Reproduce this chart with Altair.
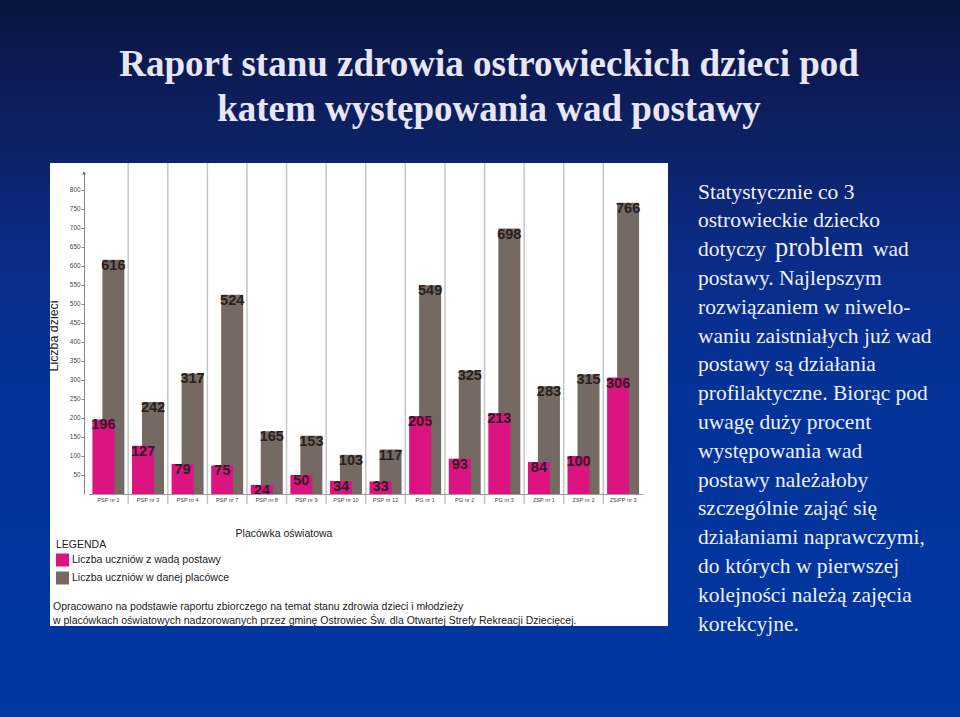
import altair as alt
import pandas as pd

# ---------------- data ----------------
schools = ["PSP nr 1", "PSP nr 3", "PSP nr 4", "PSP nr 7", "PSP nr 8", "PSP nr 9",
           "PSP nr 10", "PSP nr 12", "PG nr 1", "PG nr 2", "PG nr 3", "ZSP nr 1",
           "ZSP nr 2", "ZSiPP nr 3"]
with_defect = [196, 127, 79, 75, 24, 50, 34, 33, 205, 93, 213, 84, 100, 306]
all_pupils = [616, 242, 317, 524, 165, 153, 103, 117, 549, 325, 698, 283, 315, 766]
y_ticks = [50, 100, 150, 200, 250, 300, 350, 400, 450, 500, 550, 600, 650, 700, 750, 800]
series_names = ["Liczba uczniów z wadą postawy", "Liczba uczniów w danej placówce"]
series_colors = ["#dc1482", "#746a63"]

title_lines = ["Raport stanu zdrowia ostrowieckich dzieci pod",
               "katem występowania wad postawy"]
para_lines = ["Statystycznie co 3", "ostrowieckie dziecko", None,
              "postawy. Najlepszym", "rozwiązaniem w niwelo-",
              "waniu zaistniałych już wad", "postawy są działania",
              "profilaktyczne. Biorąc pod", "uwagę duży procent",
              "występowania wad", "postawy należałoby",
              "szczególnie zająć się", "działaniami naprawczymi,",
              "do których w pierwszej", "kolejności należą zajęcia",
              "korekcyjne."]
para_mixed = ["dotyczy", "problem", "wad"]
y_axis_title = "Liczba dzieci"
x_axis_title = "Placówka oświatowa"
legend_title = "LEGENDA"
footer_lines = ["Opracowano na podstawie raportu zbiorczego na temat stanu zdrowia dzieci i młodzieży",
                "w placówkach oświatowych nadzorowanych przez gminę Ostrowiec Św. dla Otwartej Strefy Rekreacji Dziecięcej."]

rows = []
for s, v in zip(schools, with_defect):
    rows.append({"school": s, "series": series_names[0], "value": v})
for s, v in zip(schools, all_pupils):
    rows.append({"school": s, "series": series_names[1], "value": v})
df = pd.DataFrame(rows)
sep_df = pd.DataFrame({"school": schools[1:]})
one = pd.DataFrame({"a": [0]})

SANS = "Liberation Sans"
SERIF = "Liberation Serif"

# ---------------- scales / axes ----------------
xscale = alt.Scale(domain=schools, range=[88.6, 642.9], paddingInner=0, paddingOuter=0)
yscale = alt.Scale(domain=[0, 844], range=[494, 173], nice=False, zero=True)
xaxis = alt.Axis(title=None, orient="bottom", offset=-223, ticks=False, labelFontSize=5.6,
                 labelFont=SANS, labelColor="#444444", domainColor="#9a9a9a",
                 labelPadding=3, labelAngle=0, grid=False, labelOverlap=False, zindex=2)
yaxis = alt.Axis(title=None, orient="left", offset=-84, values=y_ticks, tickSize=3,
                 tickColor="#8a8a8a", labelFontSize=6.4, labelFont=SANS,
                 labelColor="#444444", domainColor="#8a8a8a", labelPadding=1, grid=False,
                 zindex=2)
color = alt.Color("series:N",
                  scale=alt.Scale(domain=series_names, range=series_colors),
                  legend=alt.Legend(title=legend_title, orient="none", legendX=56, legendY=540,
                                    titleFontSize=10.5, titleFont=SANS, titleFontWeight="normal",
                                    titleColor="#222222", labelFontSize=10.5, labelFont=SANS,
                                    labelColor="#222222", symbolType="square", symbolSize=169,
                                    symbolStrokeWidth=0, rowPadding=5, titlePadding=3,
                                    labelOffset=3, padding=0, labelLimit=400,
                                    direction="vertical"))

# ---------------- background ----------------
bg = alt.Chart(one).mark_rect(
    color=alt.Gradient(gradient="linear", x1=0, x2=0, y1=0, y2=1,
                       stops=[alt.GradientStop(color="#0a1440", offset=0),
                              alt.GradientStop(color="#0d2062", offset=0.18),
                              alt.GradientStop(color="#0a2c88", offset=0.36),
                              alt.GradientStop(color="#03339a", offset=0.58),
                              alt.GradientStop(color="#0037a0", offset=1)])
).encode(x=alt.value(0), x2=alt.value(960), y=alt.value(0), y2=alt.value(717))

panel = alt.Chart(one).mark_rect(color="white").encode(
    x=alt.value(50), x2=alt.value(668), y=alt.value(163), y2=alt.value(626))

xenc = alt.X("school:N", scale=xscale, axis=xaxis, sort=schools)
yenc = alt.Y("value:Q", scale=yscale, axis=yaxis)

gray_bars = alt.Chart(df).transform_filter(
    alt.datum.series == series_names[1]).mark_bar(width=22, xOffset=5).encode(
    x=xenc, y=yenc, color=color)
pink_bars = alt.Chart(df).transform_filter(
    alt.datum.series == series_names[0]).mark_bar(width=22, xOffset=-5).encode(
    x=xenc, y=yenc, color=color)

seps = alt.Chart(sep_df).mark_rule(color="#c6c6c6", strokeWidth=1.5).encode(
    x=alt.X("school:N", bandPosition=0, scale=xscale, axis=xaxis, sort=schools),
    y=alt.value(163), y2=alt.value(504))

lbl_style = dict(font=SANS, fontSize=14.5, fontWeight="bold", color="#2b2020",
                 align="center", baseline="top", dy=-1)
gray_lbl = alt.Chart(df).transform_filter(
    alt.datum.series == series_names[1]).mark_text(xOffset=5, **lbl_style).encode(
    x=xenc, y=yenc, text="value:Q")
pink_lbl = alt.Chart(df).transform_filter(
    alt.datum.series == series_names[0]).mark_text(xOffset=-5, **lbl_style).encode(
    x=xenc, y=yenc, text="value:Q")

arrow = alt.Chart(one).mark_point(shape="triangle-up", filled=True, size=14,
                                  color="#555555", opacity=1).encode(
    x=alt.value(84), y=alt.value(173))

def txt(s, x, y, **kw):
    return alt.Chart(one).mark_text(text=s, **kw).encode(x=alt.value(x), y=alt.value(y))

panel_texts = [
    txt(y_axis_title, 54, 336, font=SANS, fontSize=12.4, color="#222222", angle=270,
        align="center", baseline="middle"),
    txt(x_axis_title, 284, 537, font=SANS, fontSize=10.5, color="#222222",
        align="center", baseline="alphabetic"),
    txt(footer_lines[0], 53, 610, font=SANS, fontSize=10.5, color="#222222",
        align="left", baseline="alphabetic"),
    txt(footer_lines[1], 53, 624, font=SANS, fontSize=10.5, color="#222222",
        align="left", baseline="alphabetic"),
]

title_texts = []
for i, line in enumerate(title_lines):
    yb = 76 + i * 45
    title_texts.append(txt(line, 489, yb, font=SERIF, fontSize=37, fontWeight="bold",
                           color="#e6e6f6", align="center", baseline="alphabetic"))

para_texts = []
for i, line in enumerate(para_lines):
    yb = 198.5 + i * 28.8
    if line is None:
        para_texts.append(txt(para_mixed[0], 698, yb, font=SERIF, fontSize=21.5,
                              color="#eef0fa", align="left", baseline="alphabetic"))
        para_texts.append(txt(para_mixed[1], 775, yb, font=SERIF, fontSize=26.5,
                              color="#eef0fa", align="left", baseline="alphabetic"))
        para_texts.append(txt(para_mixed[2], 873, yb, font=SERIF, fontSize=21.5,
                              color="#eef0fa", align="left", baseline="alphabetic"))
    else:
        para_texts.append(txt(line, 698, yb, font=SERIF, fontSize=21.5,
                              color="#eef0fa", align="left", baseline="alphabetic"))

chart = alt.layer(
    bg, panel, gray_bars, pink_bars, seps, gray_lbl, pink_lbl, arrow,
    *panel_texts, *title_texts, *para_texts
).properties(
    width=960, height=717, autosize=alt.AutoSizeParams(type="none"), padding=0
).configure_view(stroke=None).configure(background="#0a2a8a")

chart.save("out.html", embed_options={"renderer": "svg", "actions": False})
